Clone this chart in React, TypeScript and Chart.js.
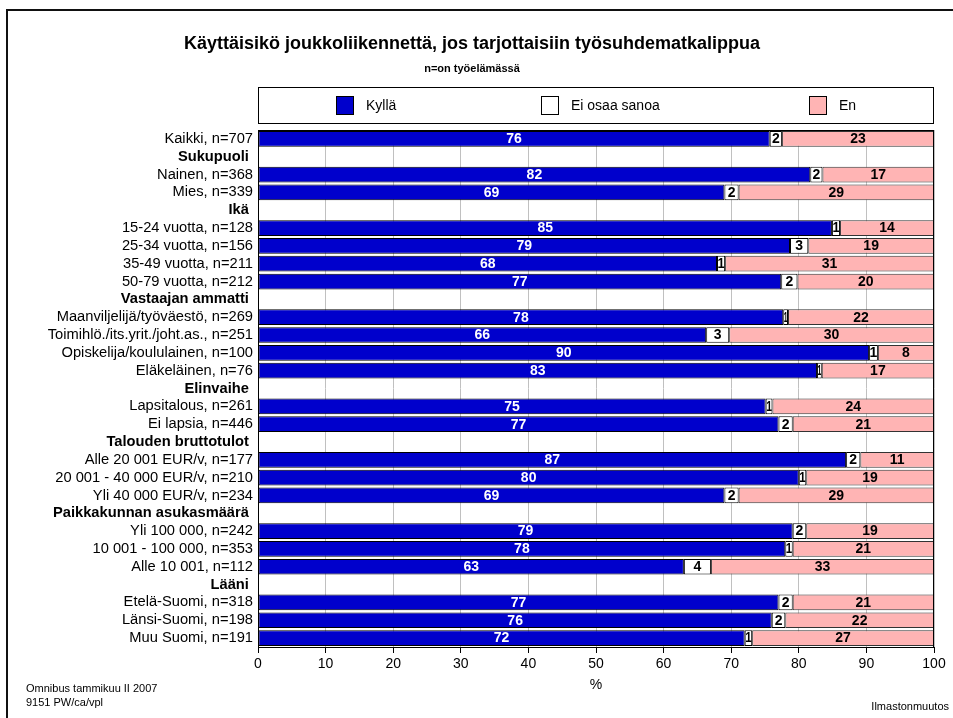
import React, { useEffect, useRef } from 'react';
import { Chart, registerables } from 'chart.js';

Chart.register(...registerables);

const FONT = '"Liberation Sans", Arial, Helvetica, sans-serif';

const categories = [
  'Kaikki, n=707',
  'Sukupuoli',
  'Nainen, n=368',
  'Mies, n=339',
  'Ikä',
  '15-24 vuotta, n=128',
  '25-34 vuotta, n=156',
  '35-49 vuotta, n=211',
  '50-79 vuotta, n=212',
  'Vastaajan ammatti',
  'Maanviljelijä/työväestö, n=269',
  'Toimihlö./its.yrit./joht.as., n=251',
  'Opiskelija/koululainen, n=100',
  'Eläkeläinen, n=76',
  'Elinvaihe',
  'Lapsitalous, n=261',
  'Ei lapsia, n=446',
  'Talouden bruttotulot',
  'Alle 20 001 EUR/v, n=177',
  '20 001 - 40 000 EUR/v, n=210',
  'Yli 40 000 EUR/v, n=234',
  'Paikkakunnan asukasmäärä',
  'Yli 100 000, n=242',
  '10 001 - 100 000, n=353',
  'Alle 10 001, n=112',
  'Lääni',
  'Etelä-Suomi, n=318',
  'Länsi-Suomi, n=198',
  'Muu Suomi, n=191',
];

const headerRows = [
  'Sukupuoli',
  'Ikä',
  'Vastaajan ammatti',
  'Elinvaihe',
  'Talouden bruttotulot',
  'Paikkakunnan asukasmäärä',
  'Lääni',
];

const kylla = [75.7, null, 81.7, 69.0, null, 84.9, 78.7, 67.9, 77.4, null, 77.7, 66.3, 90.4, 82.7, null, 75.1, 77.0, null, 87.0, 80.0, 69.0, null, 79.1, 78.0, 63.0, null, 77.0, 76.0, 72.0];
const eiOsaa = [1.8, null, 1.8, 2.1, null, 1.2, 2.7, 1.2, 2.4, null, 0.7, 3.4, 1.3, 0.7, null, 1.0, 2.1, null, 2.1, 1.1, 2.1, null, 2.0, 1.1, 4.0, null, 2.1, 2.0, 1.1];
const en = [22.5, null, 16.5, 28.9, null, 13.9, 18.6, 30.9, 20.2, null, 21.6, 30.3, 8.3, 16.6, null, 23.9, 20.9, null, 10.9, 18.9, 28.9, null, 18.9, 20.9, 33.0, null, 20.9, 22.0, 26.9];

const seriesLabels = ['Kyllä', 'Ei osaa sanoa', 'En'];
const seriesColors = ['#0000cc', '#ffffff', '#ffb4b4'];
const seriesBorders = ['#000000', '#000000', '#333333'];
const labelColors = ['#ffffff', '#000000', '#000000'];

const xTicksMin = 0;
const xTicksMax = 100;
const xTickStep = 10;

const titleText = 'Käyttäisikö joukkoliikennettä, jos tarjottaisiin työsuhdematkalippua';
const subtitleText = 'n=on työelämässä';
const axisTitle = '%';
const footerLeft = ['Omnibus tammikuu II 2007', '9151 PW/ca/vpl'];
const footerRight = 'Ilmastonmuutos';

const decorPlugin = {
  id: 'decor',
  afterDraw(chart: any) {
    const ctx = chart.ctx;
    const ca = chart.chartArea;
    ctx.save();
    // page frame
    ctx.fillStyle = '#111';
    ctx.fillRect(6, 9, 953, 2);
    ctx.fillRect(6, 9, 2, 718);
    // plot frame
    ctx.strokeStyle = '#000';
    ctx.lineWidth = 1;
    ctx.strokeRect(Math.round(ca.left) + 0.5, Math.round(ca.top) + 0.5, Math.round(ca.right - ca.left) - 1, Math.round(ca.bottom - ca.top));
    // title
    ctx.fillStyle = '#000';
    ctx.textAlign = 'center';
    ctx.textBaseline = 'middle';
    ctx.font = `bold 18px ${FONT}`;
    ctx.fillText(titleText, 472, 44);
    ctx.font = `bold 11px ${FONT}`;
    ctx.fillText(subtitleText, 472, 69);
    // legend box
    ctx.strokeRect(ca.left + 0.5, 87.5, ca.right - ca.left - 1, 36);
    const itemX = [336, 541, 809];
    ctx.font = `14px ${FONT}`;
    ctx.textAlign = 'left';
    seriesLabels.forEach((lab, i) => {
      ctx.fillStyle = seriesColors[i];
      ctx.fillRect(itemX[i], 96, 18, 19);
      ctx.strokeStyle = '#000';
      ctx.strokeRect(itemX[i] + 0.5, 96.5, 17, 18);
      ctx.fillStyle = '#000';
      ctx.fillText(lab, itemX[i] + 30, 106);
    });
    // footer
    ctx.font = `11px ${FONT}`;
    ctx.fillText(footerLeft[0], 26, 689);
    ctx.fillText(footerLeft[1], 26, 703);
    ctx.textAlign = 'right';
    ctx.fillText(footerRight, 949, 707);
    ctx.restore();
  },
  afterDatasetsDraw(chart: any) {
    const ctx = chart.ctx;
    ctx.save();
    ctx.font = `bold 14px ${FONT}`;
    ctx.textAlign = 'center';
    ctx.textBaseline = 'middle';
    chart.data.datasets.forEach((ds: any, di: number) => {
      const meta = chart.getDatasetMeta(di);
      meta.data.forEach((el: any, idx: number) => {
        const v = ds.data[idx];
        if (v === null || v === undefined) return;
        const p = el.getProps(['x', 'y', 'base'], true);
        const left = Math.min(p.x, p.base);
        const w = Math.abs(p.x - p.base);
        const txt = String(Math.round(v));
        const tw = ctx.measureText(txt).width;
        ctx.fillStyle = labelColors[di];
        if (tw > w - 1) {
          ctx.fillText(txt, left + w / 2, p.y + 0.5, Math.max(w - 1, 3));
        } else {
          ctx.fillText(txt, left + w / 2, p.y + 0.5);
        }
      });
    });
    ctx.restore();
  },
};

export default function App() {
  const ref = useRef<HTMLCanvasElement | null>(null);
  useEffect(() => {
    if (!ref.current) return;
    const values = [kylla, eiOsaa, en];
    const chart = new Chart(ref.current, {
      type: 'bar',
      data: {
        labels: categories.map((c) => (headerRows.includes(c) ? c + ' ' : c)),
        datasets: values.map((d, i) => ({
          label: seriesLabels[i],
          data: d,
          backgroundColor: seriesColors[i],
          borderColor: seriesBorders[i],
          borderWidth: 1,
          borderSkipped: false,
          barPercentage: 0.88,
          categoryPercentage: 1,
        })),
      },
      options: {
        indexAxis: 'y',
        responsive: false,
        animation: false,
        layout: { padding: { top: 130, right: 19, left: 0, bottom: 0 } },
        plugins: {
          legend: { display: false },
          tooltip: { enabled: false },
          title: { display: false },
        },
        scales: {
          x: {
            stacked: true,
            min: xTicksMin,
            max: xTicksMax,
            ticks: { stepSize: xTickStep, color: '#000', font: { family: FONT, size: 14 }, padding: 3 },
            grid: { color: '#c0c0c0', tickColor: '#000', tickLength: 6, drawOnChartArea: true },
            border: { color: '#000', width: 1 },
            title: { display: true, text: axisTitle, color: '#000', font: { family: FONT, size: 14 }, padding: { top: 4, bottom: 24 } },
            afterFit: (s: any) => {
              s.height = 71;
            },
          },
          y: {
            stacked: true,
            ticks: {
              autoSkip: false,
              color: '#000',
              padding: 5,
              font: (c: any) => ({
                family: FONT,
                size: 14.7,
                weight: headerRows.includes(categories[c.index]) ? 'bold' : 'normal',
              }),
            },
            grid: { display: false, drawTicks: false },
            border: { color: '#000', width: 1 },
            afterFit: (s: any) => {
              s.width = 258;
            },
          },
        },
      },
      plugins: [decorPlugin],
    } as any);
    return () => chart.destroy();
  }, []);
  return (
    <div style={{ position: 'absolute', left: 0, top: 0, width: 953, height: 718, background: '#fff' }}>
      <canvas ref={ref} width={953} height={718} style={{ display: 'block' }} />
    </div>
  );
}
